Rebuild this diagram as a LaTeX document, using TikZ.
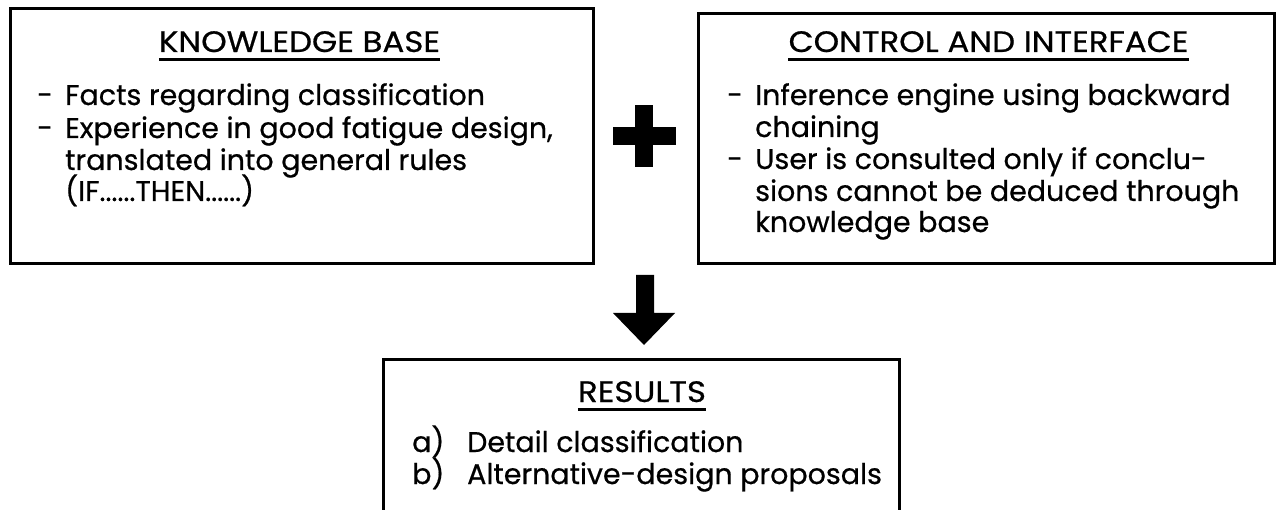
\documentclass[tikz,border=0pt]{standalone}
\usepackage{fontspec}
\setmainfont{Poppins}[FakeBold=0.6]
\newcommand{\ttltext}[1]{\scalebox{1.1}[1]{#1}}
\begin{document}
\begin{tikzpicture}[x=1pt,y=-1pt,
  box/.style={draw, line width=3pt, inner sep=0pt, anchor=north west},
  txt/.style={anchor=base west, inner sep=0pt, font=\fontsize{28.5}{32}\selectfont},
  ttl/.style={anchor=base, inner sep=0pt, font=\fontsize{29.5}{32}\selectfont},
  uline/.style={line width=3.5pt},
  symb/.style={fill=black, inner sep=0pt},
]
\useasboundingbox (0,0) rectangle (1276,510);
\begin{scope}
\clip (0,0) rectangle (1276,510);
% boxes
\node[box, minimum width=583pt, minimum height=255pt] (kb) at (9,7) {};
\node[box, minimum width=576pt, minimum height=250pt] (ci) at (697,12) {};
\node[box, minimum width=516pt, minimum height=200pt] (res) at (382,358) {};
% knowledge base
\node[ttl] (kbt) at (299.5,52) {\ttltext{KNOWLEDGE BASE}};
\draw[uline] ([yshift=-7.5pt]kbt.base west) -- ([yshift=-7.5pt]kbt.base east);
\node[txt] (kbd1) at (37,105) {-};
\node[txt] (kb1) at (65,105) {Facts regarding classification};
\node[txt] (kbd2) at (37,138) {-};
\node[txt] (kb2) at (65,138) {Experience in good fatigue design,};
\node[txt] (kb3) at (65,170) {translated into general rules};
\node[txt] (kb4) at (65,201) {(IF......THEN......)};
% control and interface
\node[ttl] (cit) at (988.5,52) {\ttltext{CONTROL AND INTERFACE}};
\draw[uline] ([yshift=-7.5pt]cit.base west) -- ([yshift=-7.5pt]cit.base east);
\node[txt] (cid1) at (727,105) {-};
\node[txt] (ci1) at (755,105) {Inference engine using backward};
\node[txt] (ci2) at (755,137) {chaining};
\node[txt] (cid2) at (727,169) {-};
\node[txt] (ci3) at (755,169) {User is consulted only if conclu-};
\node[txt] (ci4) at (755,201) {sions cannot be deduced through};
\node[txt] (ci5) at (755,232) {knowledge base};
% results
\node[ttl] (rest) at (642,402) {\ttltext{RESULTS}};
\draw[uline] ([yshift=-7.5pt]rest.base west) -- ([yshift=-7.5pt]rest.base east);
\node[txt] (ra) at (412,452) {a)};
\node[txt] (r1) at (467,452) {Detail classification};
\node[txt] (rb) at (412,484) {b)};
\node[txt] (r2) at (467,484) {Alternative-design proposals};
% plus sign
\node[symb, minimum width=18pt, minimum height=62pt] (plusv) at (644,136) {};
\node[symb, minimum width=63pt, minimum height=18pt] (plush) at (644,136) {};
% down arrow
\fill (636,275) -- (654,275) -- (654,313) -- (675,313) -- (644,345) -- (613,313) -- (636,313) -- cycle;
\end{scope}
\end{tikzpicture}
\end{document}
